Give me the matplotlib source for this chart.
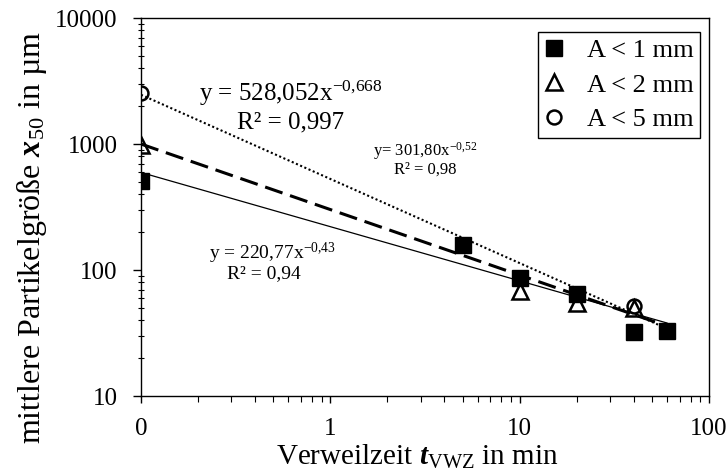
import matplotlib
matplotlib.use("Agg")
import matplotlib.pyplot as plt
import numpy as np
from matplotlib.ticker import FixedLocator, FixedFormatter, LogLocator, NullFormatter

plt.rcParams["font.family"] = ["Liberation Serif", "DejaVu Serif"]
plt.rcParams["mathtext.fontset"] = "custom"
plt.rcParams["mathtext.rm"] = "Liberation Serif"
plt.rcParams["mathtext.it"] = "Liberation Serif:italic"
plt.rcParams["mathtext.bf"] = "Liberation Serif:bold"
plt.rcParams["mathtext.bfit"] = "Liberation Serif:bold:italic"

# measured median particle size vs. residence time
t_1mm = [0.1, 5, 10, 20, 40, 60]
x50_1mm = [510, 159, 86, 64, 32, 33]
t_2mm = [0.1, 10, 20, 40]
x50_2mm = [980, 68, 55, 50]
t_5mm = [0.1, 40]
x50_5mm = [2540, 52]

# power-law trend lines y = a * x^b
fit_a = [220.77, 301.80, 528.052]
fit_b = [-0.43, -0.52, -0.668]
fit_r2 = ["0,94", "0,98", "0,997"]
fit_a_txt = ["220,77", "301,80", "528,052"]
fit_b_txt = ["-0{,}43", "-0{,}52", "-0{,}668"]
fit_eq_sep = [" = ", "= ", " = "]

labels = ["A < 1 mm", "A < 2 mm", "A < 5 mm"]
x_ticks = [0.1, 1, 10, 100]
x_ticklabels = ["0", "1", "10", "100"]
y_ticks = [10, 100, 1000, 10000]
y_ticklabels = ["10", "100", "1000", "10000"]

W, H = 727, 473
fig = plt.figure(figsize=(W / 100, H / 100), dpi=100)
ax = fig.add_axes([141 / W, 1 - 396 / H, 568 / W, 378 / H])
ax.set_xscale("log")
ax.set_yscale("log")
ax.set_xlim(0.1, 100)
ax.set_ylim(10, 10000)

# trend lines
tt = np.geomspace(0.1, 60, 200)
line_styles = [dict(ls="-", lw=0.9),
               dict(ls=(0, (6, 2.6)), lw=2.2),
               dict(ls=(0, (1, 1.2)), lw=1.5)]
for a, b, st in zip(fit_a, fit_b, line_styles):
    ax.plot(tt, a * tt ** b, color="black", zorder=2, **st)

# data points
ax.plot(t_1mm, x50_1mm, ls="none", marker="s", ms=11, color="black",
        label=labels[0], zorder=3)
ax.plot(t_2mm, x50_2mm, ls="none", marker="^", ms=11, mfc="none", mec="black",
        mew=1.8, label=labels[1], zorder=3)
ax.plot(t_5mm, x50_5mm, ls="none", marker="o", ms=10, mfc="none", mec="black",
        mew=1.8, label=labels[2], zorder=3)

# equations
eq_fs = [14, 12, 18]
eq_pos = [(273, 253), (425, 151), (291, 93)]
r2_pos = [(264, 274), (425, 170), (291, 122)]
for i in range(3):
    ex, ey = eq_pos[i]
    rx, ry = r2_pos[i]
    fig.text(ex / W, 1 - ey / H,
             "y" + fit_eq_sep[i] + fit_a_txt[i] + "x$^{\\mathregular{" + fit_b_txt[i] + "}}$",
             ha="center", va="center", fontsize=eq_fs[i])
    fig.text(rx / W, 1 - ry / H, "R² = " + fit_r2[i],
             ha="center", va="center", fontsize=eq_fs[i])

# axes and ticks
ax.xaxis.set_major_locator(FixedLocator(x_ticks))
ax.xaxis.set_major_formatter(FixedFormatter(x_ticklabels))
ax.yaxis.set_major_locator(FixedLocator(y_ticks))
ax.yaxis.set_major_formatter(FixedFormatter(y_ticklabels))
ax.xaxis.set_minor_locator(LogLocator(base=10, subs=np.arange(2, 10)))
ax.yaxis.set_minor_locator(LogLocator(base=10, subs=np.arange(2, 10)))
ax.xaxis.set_minor_formatter(NullFormatter())
ax.yaxis.set_minor_formatter(NullFormatter())
ax.tick_params(which="major", direction="out", width=1, labelsize=18)
ax.tick_params(axis="y", which="major", length=6, pad=11)
ax.tick_params(axis="x", which="major", length=5, pad=11)
ax.tick_params(axis="y", which="minor", direction="inout", length=5, width=0.8)
ax.tick_params(axis="x", which="minor", direction="out", length=4.5, width=0.8)
for sp in ax.spines.values():
    sp.set_linewidth(1.0)

fig.text(417 / W, 1 - 465 / H,
         "Verweilzeit $\\mathbfit{t}_{\\mathregular{VWZ}}$ in min",
         ha="center", va="baseline", fontsize=21)
fig.text(32 / W, 1 - 237 / H,
         "mittlere Partikelgröße $\\mathbfit{x}_{\\mathregular{50}}$ in µm",
         ha="center", va="center", rotation=90, fontsize=23)

leg = ax.legend(loc="upper right", bbox_to_anchor=(0.984, 0.963),
                borderaxespad=0, fontsize=19, frameon=True, fancybox=False,
                framealpha=1, edgecolor="black", handlelength=0.7,
                handletextpad=0.9, labelspacing=0.42, borderpad=0.25)
leg.get_frame().set_linewidth(1.0)

fig.savefig("out.png", dpi=100, facecolor="white")
